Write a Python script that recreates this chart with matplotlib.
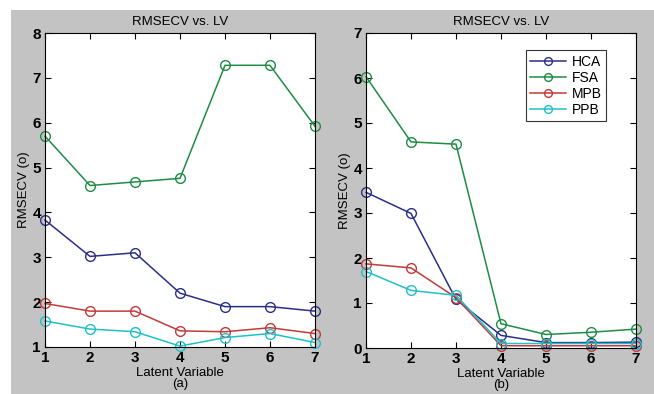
import matplotlib
matplotlib.use("Agg")
import matplotlib.pyplot as plt
from matplotlib.patches import Rectangle

plt.rcParams['font.family'] = ['Liberation Sans', 'DejaVu Sans']

lv = [1, 2, 3, 4, 5, 6, 7]
series_names = ["HCA", "FSA", "MPB", "PPB"]
colors = ["#2a2f86", "#1e8c45", "#c43a3a", "#20c0c8"]

a_hca = [3.83, 3.02, 3.10, 2.20, 1.90, 1.90, 1.80]
a_fsa = [5.70, 4.60, 4.68, 4.76, 7.28, 7.28, 5.92]
a_mpb = [1.97, 1.80, 1.80, 1.36, 1.34, 1.43, 1.30]
a_ppb = [1.58, 1.40, 1.34, 1.02, 1.21, 1.30, 1.10]

b_hca = [3.46, 2.99, 1.08, 0.28, 0.12, 0.12, 0.13]
b_fsa = [6.03, 4.58, 4.53, 0.54, 0.30, 0.35, 0.42]
b_mpb = [1.87, 1.78, 1.12, 0.05, 0.05, 0.05, 0.05]
b_ppb = [1.70, 1.28, 1.17, 0.10, 0.10, 0.10, 0.10]

fig = plt.figure(figsize=(6.54, 3.94), dpi=100)
fig.patch.set_facecolor("white")
fig.patches.append(Rectangle((11/654, 0), 1, (394-10)/394, transform=fig.transFigure,
                             facecolor="#c3c3c3", edgecolor="none", zorder=-10))

def panel(rect, data, ylim, yticks, label, legend=False):
    ax = fig.add_axes(rect)
    for vals, name, c in zip(data, series_names, colors):
        ax.plot(lv, vals, color=c, marker="o", markerfacecolor="none",
                markeredgecolor=c, markersize=7, linewidth=1.1, label=name, clip_on=False)
    ax.set_xlim(1, 7)
    ax.set_ylim(*ylim)
    ax.set_xticks(lv)
    ax.set_yticks(yticks)
    ax.tick_params(direction="in", top=True, right=True, labelsize=11, length=4, pad=3)
    for t in ax.get_xticklabels() + ax.get_yticklabels():
        t.set_fontweight("bold")
    ax.set_title("RMSECV vs. LV", fontsize=9.5, pad=6)
    ax.set_ylabel("RMSECV (o)", fontsize=9.5, labelpad=2)
    ax.set_xlabel("Latent Variable\n" + label, fontsize=9.5, labelpad=1, linespacing=0.9)
    for s in ax.spines.values():
        s.set_linewidth(0.8)
    if legend:
        leg = ax.legend(loc="upper right", bbox_to_anchor=(0.915, 0.967), fontsize=10,
                        frameon=True, fancybox=False, edgecolor="black", handlelength=2.6,
                        borderpad=0.3, labelspacing=0.15, handletextpad=0.4, markerscale=0.8)
        leg.get_frame().set_linewidth(0.8)
    return ax

panel([45/654, 47/394, 270/654, 314/394], [a_hca, a_fsa, a_mpb, a_ppb], (1, 8), range(1, 9), "(a)")
panel([366/654, 46/394, 270/654, 315/394], [b_hca, b_fsa, b_mpb, b_ppb], (0, 7), range(0, 8), "(b)", legend=True)

fig.savefig("out.png", dpi=100, facecolor=fig.get_facecolor())
